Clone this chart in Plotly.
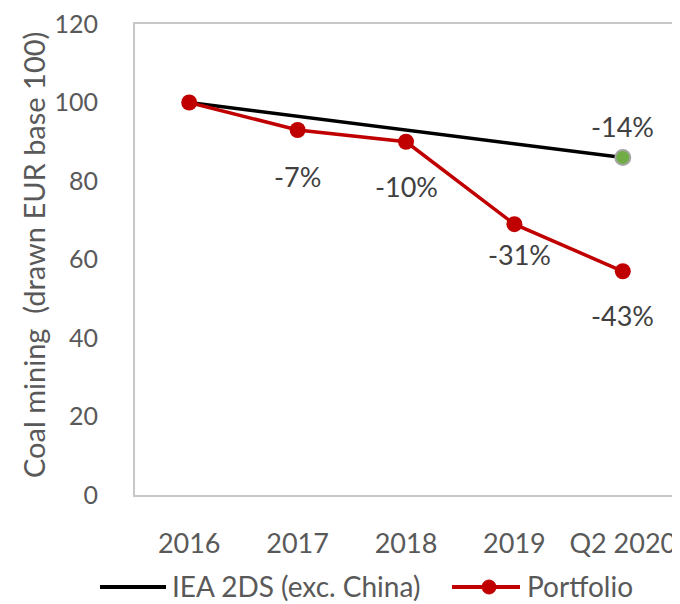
import plotly.graph_objects as go

periods = ["2016", "2017", "2018", "2019", "Q2 2020"]
iea_2ds = [100, 96.5, 93, 89.5, 86]
portfolio = [100, 93, 90, 69, 57]
portfolio_labels = ["", "-7%", "-10%", "-31%", "-43%"]
iea_label = "-14%"

FONT = "Lato"
GREY = "#595959"
RED = "#C00000"

# page has an 8px body margin, so the figure is a bit smaller than the window
PAGE_W, PAGE_H, OFF = 680, 604, 8
# plot area in page px: x 135..677, y 24..495
L, R, T, B = 135, 677, 24, 495
W, H = R - L, B - T


def px_x(x):
    return (x - L) / W


def px_y(y):
    return (B - y) / H


fig = go.Figure()
fig.add_trace(go.Scatter(
    x=periods, y=iea_2ds, name="IEA 2DS (exc. China)", mode="lines",
    line=dict(color="black", width=3.5)))
fig.add_trace(go.Scatter(
    x=periods, y=portfolio, name="Portfolio", mode="lines+markers",
    line=dict(color=RED, width=3.5),
    marker=dict(color=RED, size=16)))
# end point of the scenario line
fig.add_trace(go.Scatter(
    x=periods[-1:], y=iea_2ds[-1:], mode="markers",
    marker=dict(color="#70AD47", size=15, line=dict(color="#A5A5A5", width=2))))

# data labels (offsets in px)
shifts = [0, -47, -45, -30, -44]
xshifts = [0, 0, 0, 5, 0]
for i, (v, lab) in enumerate(zip(portfolio, portfolio_labels)):
    if lab:
        fig.add_annotation(x=i, y=v, text=lab, showarrow=False,
                           yshift=shifts[i], xshift=xshifts[i],
                           font=dict(family=FONT, size=27, color="#404040"))
fig.add_annotation(x=len(periods) - 1, y=iea_2ds[-1], text=iea_label, showarrow=False,
                   yshift=31, font=dict(family=FONT, size=27, color="#404040"))

fig.add_annotation(text="Coal mining  (drawn EUR base 100)", textangle=-90,
                   xref="paper", yref="paper", x=px_x(33), y=px_y(255),
                   xanchor="center", yanchor="middle",
                   showarrow=False, font=dict(family=FONT, size=29, color=GREY))

# legend drawn by hand so the line samples match the original length
leg_y = px_y(587)
fig.add_shape(type="line", xref="paper", yref="paper",
              x0=px_x(100), x1=px_x(166), y0=leg_y, y1=leg_y,
              line=dict(color="black", width=4))
fig.add_annotation(text="IEA 2DS (exc. China)", xref="paper", yref="paper",
                   x=px_x(171), y=px_y(586), xanchor="left", yanchor="middle",
                   borderpad=0, showarrow=False,
                   font=dict(family=FONT, size=28, color=GREY))
fig.add_shape(type="line", xref="paper", yref="paper",
              x0=px_x(452), x1=px_x(520), y0=leg_y, y1=leg_y,
              line=dict(color=RED, width=4))
fig.add_shape(type="circle", xref="paper", yref="paper",
              x0=px_x(482), x1=px_x(496), y0=px_y(594), y1=px_y(580),
              fillcolor=RED, line=dict(color=RED, width=1))
fig.add_annotation(text="Portfolio", xref="paper", yref="paper",
                   x=px_x(526), y=px_y(586), xanchor="left", yanchor="middle",
                   borderpad=0, showarrow=False,
                   font=dict(family=FONT, size=28, color=GREY))

axis_common = dict(showline=True, mirror=True, linecolor="#C8C8C8", linewidth=2,
                   showgrid=False, zeroline=False, ticks="outside",
                   tickcolor="rgba(0,0,0,0)", automargin=False,
                   ticklabeloverflow="allow")
fig.update_xaxes(type="category", range=[-0.5, 4.5], ticklen=24,
                 tickfont=dict(family=FONT, size=27, color=GREY), **axis_common)
fig.update_yaxes(range=[0, 120], dtick=20, ticklen=30,
                 tickfont=dict(family=FONT, size=25, color=GREY), **axis_common)

fig.update_layout(
    width=PAGE_W - OFF, height=PAGE_H - OFF,
    margin=dict(l=L - OFF, r=PAGE_W - R, t=T - OFF, b=PAGE_H - B),
    paper_bgcolor="white", plot_bgcolor="white",
    showlegend=False,
)

fig.write_html("out.html")
